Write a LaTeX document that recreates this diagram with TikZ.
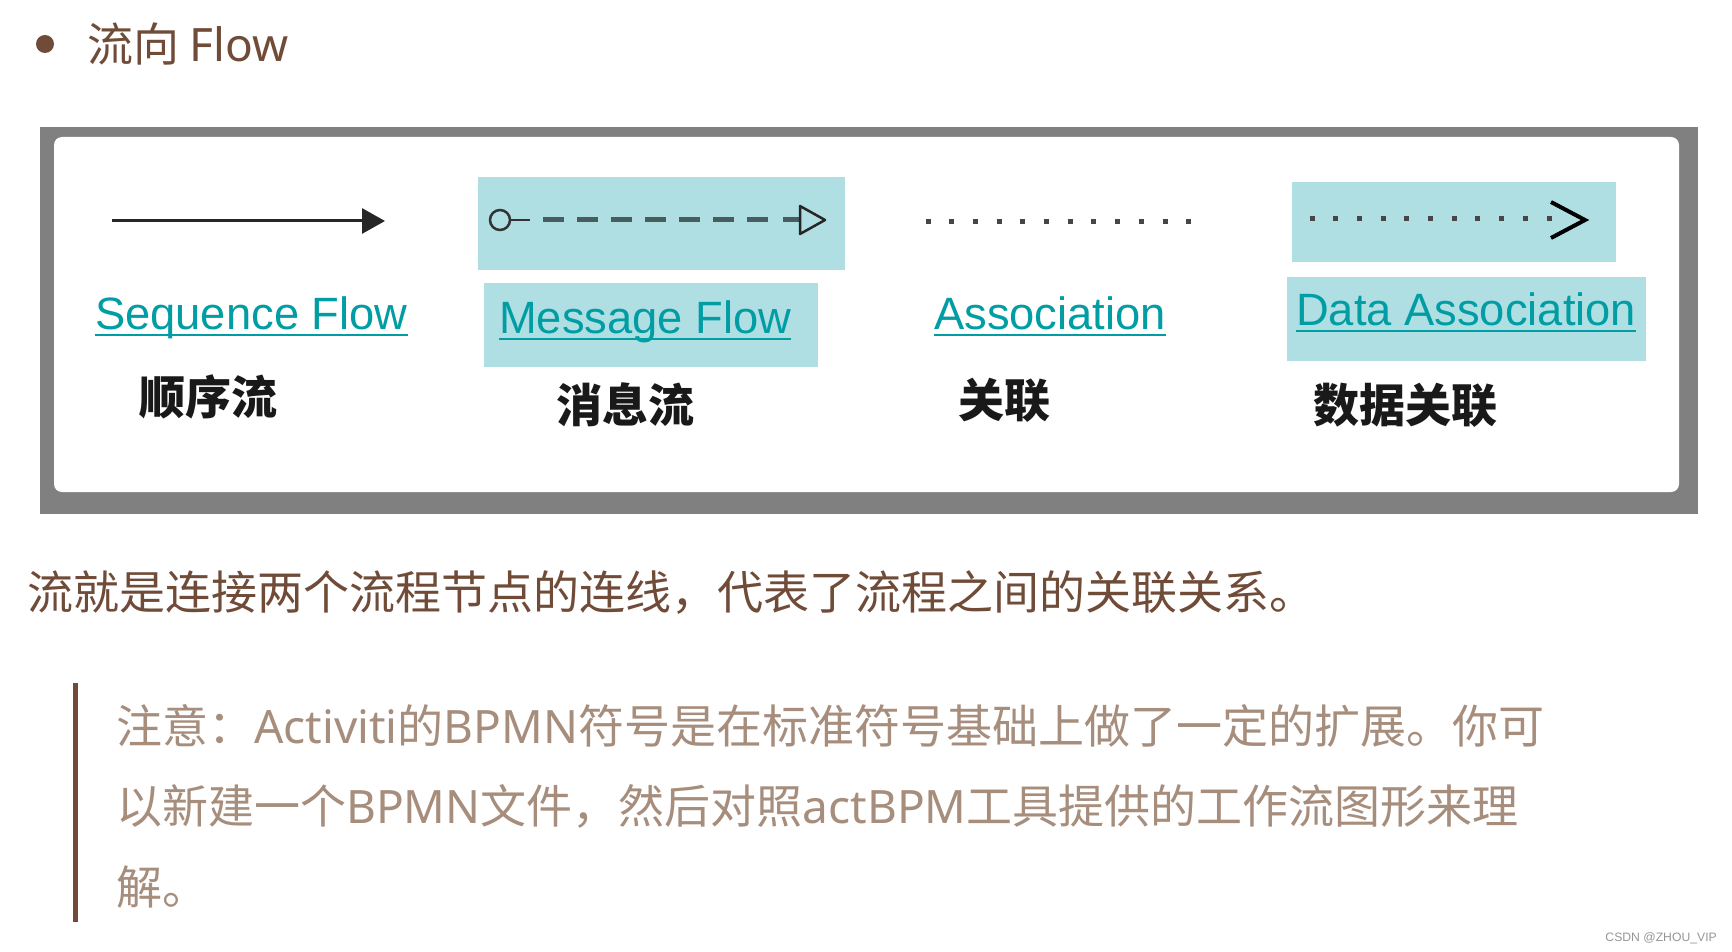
\documentclass[tikz,border=0pt]{standalone}
\usepackage{fontspec}
\usetikzlibrary{arrows.meta}
\newfontfamily\cjkfont{Noto Sans CJK SC}
\newfontfamily\latfont{Noto Sans}
\newfontfamily\arialfont{Liberation Sans}
\definecolor{brownA}{RGB}{112,76,56}
\definecolor{brownB}{RGB}{166,141,124}
\definecolor{tealT}{RGB}{0,158,164}
\definecolor{cyanB}{RGB}{176,223,227}
\definecolor{frameG}{RGB}{128,128,128}
\definecolor{dashC}{RGB}{72,94,94}
\definecolor{dotC}{RGB}{70,70,70}
\definecolor{wmark}{RGB}{150,150,150}
\newcommand\enrun[1]{{\latfont #1}}
\begin{document}
\begin{tikzpicture}[x=1pt,y=-1pt,
  lbl/.style={inner sep=0pt, anchor=base west, text=tealT, font=\arialfont\fontsize{45.3}{45.3}\selectfont},
  cnlbl/.style={inner sep=0pt, text=black!90, font=\cjkfont\bfseries\fontsize{46}{46}\selectfont},
  uline/.style={tealT, line width=2.5pt},
  bodytxt/.style={inner sep=0pt, anchor=base west, text=brownA, font=\cjkfont\fontsize{46}{46}\selectfont},
  notetxt/.style={inner sep=0pt, anchor=base west, text=brownB, font=\cjkfont\fontsize{46}{46}\selectfont},
  hlbox/.style={fill=cyanB, draw=none},
  dotline/.style={dotC, line width=5pt, dash pattern=on 5pt off 18.7pt},
]
\useasboundingbox[fill=white] (0,0) rectangle (1732,952);

% title
\node[circle, fill=brownA, minimum size=18pt, inner sep=0pt] (bullet) at (45,44) {};
\node[bodytxt, font=\cjkfont\fontsize{46}{46}\selectfont] (title) at (87,62) {流向 \enrun{Flow}};

% frame
\fill[frameG] (40,127) rectangle (1698,514);
\fill[white, rounded corners=8pt] (54,137) rectangle (1679,492);

% sequence flow
\coordinate (s1) at (112,221);
\coordinate (s2) at (385,221);
\draw[line width=3pt, black!85, -{Triangle[length=23pt,width=25pt]}] (s1) -- (s2);

% message flow
\fill[hlbox] (478,177) rectangle (845,270);
\node[circle, draw=black!80, line width=2.5pt, minimum size=20pt, inner sep=0pt] (mc) at (500,220) {};
\coordinate (m1) at (530,220);
\coordinate (md1) at (543,220);
\coordinate (md2) at (769,220);
\coordinate (md3) at (783,220);
\coordinate (mt) at (800,220);
\draw[line width=2.5pt, black!80] (mc.east) -- (m1);
\draw[dashC, line width=5pt, dash pattern=on 21pt off 13pt] (md1) -- (md2);
\draw[dashC, line width=5pt] (md3) -- (mt);
\draw[black!85, line width=2.5pt, line join=round] (800,206) -- (825,220) -- (800,234) -- cycle;

% association
\coordinate (a1) at (925.5,222);
\coordinate (a2) at (1191.5,222);
\draw[dotline] (a1) -- (a2);

% data association
\fill[hlbox] (1292,182) rectangle (1616,262);
\coordinate (d1) at (1309.5,219);
\coordinate (d2) at (1551.5,219);
\draw[dotline] (d1) -- (d2);
\draw[black, line width=4pt] (1551,202) -- (1585,220) -- (1551,238);

% label boxes
\fill[hlbox] (484,283) rectangle (818,367);
\fill[hlbox] (1287,277) rectangle (1646,361);

% labels
\node[lbl] (seql) at (95,329) {Sequence Flow};
\draw[uline] ([yshift=-6pt]seql.base west) -- ([yshift=-6pt]seql.base east);
\node[lbl] (msgl) at (499,333) {Message Flow};
\draw[uline] ([yshift=-6pt]msgl.base west) -- ([yshift=-6pt]msgl.base east);
\node[lbl] (assl) at (934,329) {Association};
\draw[uline] ([yshift=-6pt]assl.base west) -- ([yshift=-6pt]assl.base east);
\node[lbl] (datl) at (1296,325) {Data Association};
\draw[uline] ([yshift=-6pt]datl.base west) -- ([yshift=-6pt]datl.base east);

\node[cnlbl] (seqc) at (208,397) {顺序流};
\node[cnlbl] (msgc) at (625,405) {消息流};
\node[cnlbl] (assc) at (1004,400) {关联};
\node[cnlbl] (datc) at (1405,405) {数据关联};

% body text
\node[bodytxt] (body) at (27,609) {流就是连接两个流程节点的连线，代表了流程之间的关联关系。};

% note
\fill[brownA] (73,683) rectangle (78,922);
\node[notetxt] (n1) at (116,743) {注意：\enrun{Activiti}的\enrun{BPMN}符号是在标准符号基础上做了一定的扩展。你可};
\node[notetxt] (n2) at (116,823) {以新建一个\enrun{BPMN}文件，然后对照\enrun{actBPM}工具提供的工作流图形来理};
\node[notetxt] (n3) at (116,904) {解。};

% watermark
\node[anchor=base east, inner sep=0pt, text=wmark, font=\arialfont\fontsize{12.2}{12.2}\selectfont] (wm) at (1717,941) {CSDN @ZHOU\_VIP};
\end{tikzpicture}
\end{document}
